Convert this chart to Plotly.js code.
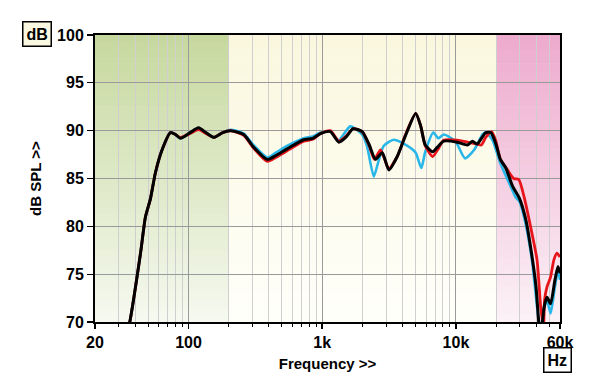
<!DOCTYPE html>
<html>
<head>
<meta charset="utf-8">
<script src="https://cdn.plot.ly/plotly-3.0.1.min.js"></script>
<style>
html,body{margin:0;padding:0;background:#fff;}
#chart{width:600px;height:389px;}
</style>
</head>
<body>
<div id="chart"></div>
<script>
// ---- data ----
const blackFreq = [34,36.4,43.8,47.7,52,56.6,63.5,73.3,80,87,103,119,135,155,180,206,259,306,388,450,546,729,850,971,1150,1330,1500,1700,1990,2250,2500,2810,3150,3640,4200,5000,5450,5900,6700,7300,8100,10200,12200,13300,14400,16700,18200,19800,21500,23600,26500,29900,33300,36100,39700,41600,42800,44000,45700,48000,51000,55000,58000,60000];
const blackDb   = [68.3,70.0,77.2,81.0,82.9,85.6,88.0,89.8,89.6,89.2,89.8,90.3,89.8,89.3,89.8,90.0,89.6,88.3,87.0,87.4,88.1,89.05,89.2,89.7,89.9,88.8,89.3,90.2,89.9,88.5,87.0,87.7,85.9,87.3,89.5,91.8,90.5,88.5,87.8,88.3,88.9,88.8,88.5,88.9,88.6,89.8,89.8,88.7,87.0,86.1,84.2,82.9,80.7,77.9,73.7,70.0,68.5,69.5,71.6,72.6,71.9,74.4,75.8,75.1];

const blueFreq = [34,36.4,43.8,47.7,52,56.6,63.5,73.3,80,87,103,119,135,155,180,206,259,306,388,450,546,729,850,971,1150,1330,1620,1990,2160,2430,2600,2880,3430,4340,5000,5510,5900,6770,7400,8100,9900,11700,13700,15800,16700,18700,21500,25600,27800,29800,32300,37000,40400,41700,42800,44600,48000,51000,55000,58000,60000];
const blueDb   = [68.3,70.0,77.2,81.0,82.9,85.6,88.0,89.8,89.6,89.2,89.8,90.2,89.8,89.3,89.8,90.1,89.7,88.5,87.2,87.7,88.4,89.2,89.4,89.8,89.9,89.0,90.45,89.6,88.4,85.2,86.5,88.4,89.05,88.4,87.7,86.1,87.8,89.8,89.2,89.6,88.9,87.1,88.0,89.6,89.8,89.05,86.6,84.2,83.1,82.6,81.0,76.5,71.6,70.0,68.5,70.8,72.3,70.9,73.7,75.4,74.4];

const redFreq = [34,36.4,43.8,47.7,52,56.6,63.5,73.3,80,87,103,119,135,155,180,206,259,306,388,450,546,729,850,971,1150,1330,1500,1700,1990,2250,2450,2730,2900,3150,3640,4200,5000,5450,5900,6700,7300,8100,10200,12200,14400,15500,16700,18500,19800,21500,24300,27000,29500,32300,36100,40400,43000,44500,45200,46000,48000,51000,54000,57000,60000];
const redDb   = [68.3,70.0,77.2,81.0,82.9,85.6,88.0,89.8,89.6,89.3,89.7,90.1,89.7,89.3,89.8,90.0,89.5,88.2,86.8,87.2,87.9,88.9,89.1,89.7,90.0,88.9,89.4,90.2,89.9,88.4,87.0,88.0,87.2,86.0,87.3,89.6,91.8,90.5,88.4,87.3,88.0,89.0,89.0,88.8,88.6,88.5,89.3,89.9,89.0,87.0,85.9,85.0,84.9,83.1,80.0,76.5,71.6,70.0,69.0,72.3,73.7,74.7,76.5,77.2,76.8];

const xTickVals  = [20,100,1000,10000,60000];
const xTickText  = ['20','100','1k','10k','60k'];
const xMinorVals = [30,40,50,60,70,80,90,200,300,400,500,600,700,800,900,2000,3000,4000,5000,6000,7000,8000,9000,20000,30000,40000,50000];
const yTickVals  = [70,75,80,85,90,95,100];

// background bands: [start Hz, end Hz]
const bandStart = [20, 200, 20000];
const bandEnd   = [200, 20000, 60000];
const bandTop    = [[198,216,158],[250,247,222],[237,170,205]];
const bandBottom = [[246,249,240],[255,255,250],[252,242,247]];

// ---- build ----
const shapes = [];
const N = 40, y0 = 70, y1 = 100;
for (let b = 0; b < bandStart.length; b++) {
  for (let i = 0; i < N; i++) {
    const t = (i + 0.5) / N; // 0 bottom -> 1 top
    const c = bandBottom[b].map((v, k) => Math.round(v + (bandTop[b][k] - v) * t));
    const ya = y0 + (y1 - y0) * i / N;
    const yb = y0 + (y1 - y0) * (i + 1) / N + 0.05;
    shapes.push({type:'rect', xref:'x', yref:'y', layer:'below',
      x0: bandStart[b], x1: bandEnd[b], y0: ya, y1: Math.min(yb, y1),
      fillcolor: 'rgb(' + c.join(',') + ')', line: {width: 0}});
  }
}

const traces = [
  {x: blueFreq, y: blueDb, mode:'lines', line:{color:'#29b6e8', width:2.6, shape:'spline', smoothing:0.6}, hoverinfo:'skip'},
  {x: redFreq, y: redDb, mode:'lines', line:{color:'#e8141b', width:2.8, shape:'spline', smoothing:0.6}, hoverinfo:'skip'},
  {x: blackFreq, y: blackDb, mode:'lines', line:{color:'#000000', width:3, shape:'spline', smoothing:0.6}, hoverinfo:'skip'}
];

const font = {family:'Liberation Sans, Arial, sans-serif', size:15, color:'#000'};

const layout = {
  width: 600, height: 389,
  margin: {l:95, r:40, t:35, b:67},
  paper_bgcolor: '#ffffff',
  plot_bgcolor: '#ffffff',
  showlegend: false,
  font: font,
  xaxis: {
    type:'log', range:[Math.log10(20), Math.log10(60000)],
    tickmode:'array', tickvals: xTickVals, ticktext: xTickText,
    ticks:'outside', ticklen:5, tickwidth:1.5, tickcolor:'#000',
    tickfont:{family:font.family, size:16, color:'#000', weight:'bold'},
    showgrid:true, gridcolor:'#9a9a9a', gridwidth:1,
    minor:{tickmode:'array', tickvals: xMinorVals, ticks:'outside', ticklen:3, tickcolor:'#000', tickwidth:1, showgrid:true, gridcolor:'#cfcfcf', gridwidth:1},
    showline:true, linecolor:'#000', linewidth:2, mirror:true,
    zeroline:false,
    title:{text:'Frequency >>', font:{family:font.family, size:15, color:'#000', weight:'bold'}, standoff:8}
  },
  yaxis: {
    range:[70,100], tickmode:'array', tickvals: yTickVals,
    ticks:'outside', ticklen:6, tickwidth:1.2, tickcolor:'#000',
    tickfont:{family:font.family, size:16, color:'#000', weight:'bold'},
    showgrid:true, gridcolor:'#9a9a9a', gridwidth:1,
    showline:true, linecolor:'#000', linewidth:2, mirror:true,
    zeroline:false,
    title:{text:'dB SPL >>', font:{family:font.family, size:15, color:'#000', weight:'bold'}, standoff:12}
  },
  shapes: shapes,
  annotations: [
    {xref:'paper', yref:'paper', x:-0.125, y:1.005, xanchor:'center', yanchor:'middle',
     text:'<b>dB</b>', showarrow:false, font:{family:font.family, size:16, color:'#000'},
     bgcolor:'#fbf8e2', bordercolor:'#000', borderwidth:1.5, borderpad:3},
    {xref:'paper', yref:'paper', x:0.995, y:-0.132, xanchor:'center', yanchor:'middle',
     text:'<b>Hz</b>', showarrow:false, font:{family:font.family, size:16, color:'#000'},
     bgcolor:'#ffffff', bordercolor:'#000', borderwidth:1.5, borderpad:3}
  ]
};

Plotly.newPlot('chart', traces, layout, {staticPlot:true, displayModeBar:false});
</script>
</body>
</html>
